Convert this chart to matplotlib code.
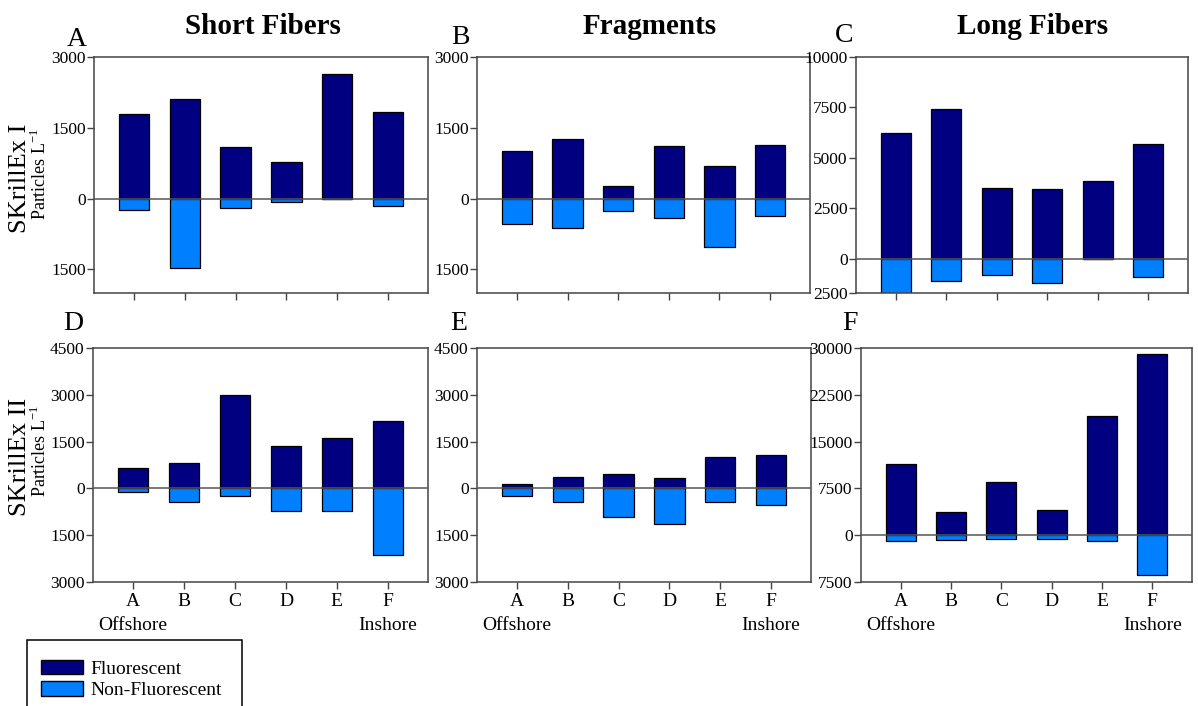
import numpy as np
import matplotlib
matplotlib.use('Agg')
import matplotlib.pyplot as plt
from matplotlib.patches import Patch, Rectangle
from matplotlib.ticker import FixedLocator, FuncFormatter

plt.rcParams['font.family'] = ['Liberation Serif', 'DejaVu Serif']
plt.rcParams['mathtext.fontset'] = 'custom'
plt.rcParams['mathtext.rm'] = 'Liberation Serif'

# Sampling stations, offshore -> inshore
stations = ['A', 'B', 'C', 'D', 'E', 'F']
columns = ['Short Fibers', 'Fragments', 'Long Fibers']
rows = ['SKrillEx I', 'SKrillEx II']
panel_letters = ['A', 'B', 'C', 'D', 'E', 'F']

# particles per litre (non-fluorescent plotted downward)
sk1_short_fl = [1800, 2100, 1100, 765, 2645, 1830]
sk1_short_nf = [235, 1465, 200, 80, 5, 150]
sk1_frag_fl = [1010, 1265, 275, 1105, 695, 1140]
sk1_frag_nf = [540, 625, 265, 420, 1025, 375]
sk1_long_fl = [6220, 7400, 3530, 3470, 3870, 5670]
sk1_long_nf = [2600, 1100, 820, 1180, 0, 930]

sk2_short_fl = [650, 820, 3000, 1360, 1605, 2150]
sk2_short_nf = [130, 450, 235, 725, 725, 2150]
sk2_frag_fl = [140, 370, 465, 320, 1015, 1065]
sk2_frag_nf = [255, 445, 910, 1130, 425, 520]
sk2_long_fl = [11450, 3780, 8560, 4100, 19100, 29100]
sk2_long_nf = [850, 690, 640, 590, 960, 6380]

fluor = [[sk1_short_fl, sk1_frag_fl, sk1_long_fl],
         [sk2_short_fl, sk2_frag_fl, sk2_long_fl]]
nonfl = [[sk1_short_nf, sk1_frag_nf, sk1_long_nf],
         [sk2_short_nf, sk2_frag_nf, sk2_long_nf]]

# y ticks / limits per panel
yticks = [[[3000, 1500, 0, -1500], [3000, 1500, 0, -1500], [10000, 7500, 5000, 2500, 0, -1700]],
          [[4500, 3000, 1500, 0, -1500, -3000], [4500, 3000, 1500, 0, -1500, -3000],
           [30000, 22500, 15000, 7500, 0, -7500]]]
ylims = [[(-2000, 3000), (-2000, 3000), (-1700, 10000)],
         [(-3000, 4500), (-3000, 4500), (-7500, 30000)]]

navy = '#000080'
light = '#0080ff'

W, H = 1198, 706
fig = plt.figure(figsize=(W / 100, H / 100), dpi=100)

# axes boxes in pixels: left, right, top, bottom
boxes = [[(94, 428, 57, 293), (477, 810, 57, 293), (856, 1188, 57, 293)],
         [(93, 428, 348, 582), (477, 811, 348, 582), (861, 1192, 348, 582)]]
letter_pos = [[(77, 39), (460, 37), (844, 35)],
              [(73, 323), (459, 323), (850, 323)]]

x = np.arange(len(stations))
for r in range(2):
    for c in range(3):
        l, rr, t, b = boxes[r][c]
        ax = fig.add_axes([l / W, 1 - b / H, (rr - l) / W, (b - t) / H])
        ax.bar(x, fluor[r][c], width=0.6, color=navy, edgecolor='black', linewidth=0.9, zorder=2)
        ax.bar(x, -np.array(nonfl[r][c]), width=0.6, color=light, edgecolor='black', linewidth=0.9, zorder=2)
        ax.axhline(0, color='#555555', lw=1.1, zorder=3)
        ax.set_xlim(-0.79, 5.79)
        ax.set_ylim(*ylims[r][c])
        ax.yaxis.set_major_locator(FixedLocator(yticks[r][c]))
        if c == 2 and r == 0:
            ax.yaxis.set_major_formatter(FuncFormatter(lambda v, p: '2500' if v < 0 else '%d' % abs(v)))
        else:
            ax.yaxis.set_major_formatter(FuncFormatter(lambda v, p: '%d' % abs(v)))
        ax.set_xticks(x)
        for s in ax.spines.values():
            s.set_color('#444444')
            s.set_linewidth(1.1)
        ax.tick_params(axis='y', direction='out', length=5, width=1, color='#444444',
                       labelsize=12.5, pad=1)
        ax.tick_params(axis='x', direction='out', length=5, width=1, color='#444444',
                       labelsize=14, pad=3)
        if r == 0:
            ax.set_xticklabels([])
        else:
            ax.set_xticklabels(stations)
            ax.text(0, -0.15, 'Offshore', transform=ax.get_xaxis_transform(),
                    ha='center', va='top', fontsize=14)
            ax.text(5, -0.15, 'Inshore', transform=ax.get_xaxis_transform(),
                    ha='center', va='top', fontsize=14)
        # panel letter
        lx, ly = letter_pos[r][c]
        fig.text(lx / W, 1 - ly / H, panel_letters[r * 3 + c],
                 ha='center', va='center', fontsize=20)

# column titles
title_x = [263, 650, 1033]
for c in range(3):
    fig.text(title_x[c] / W, 1 - 26 / H, columns[c], ha='center', va='center',
             fontsize=21, fontweight='bold')

# row labels
row_y = [178, 457]
part_y = [174, 451]
for r in range(2):
    fig.text(20 / W, 1 - row_y[r] / H, rows[r], rotation=90, ha='center', va='center', fontsize=19)
    fig.text(40 / W, 1 - part_y[r] / H, 'Particles L$^{\\mathregular{-1}}$', rotation=90,
             ha='center', va='center', fontsize=13)

# legend box (runs off the bottom edge)
fig.patches.append(Rectangle((27 / W, -0.05), (242 - 27) / W, 0.05 + 1 - 640 / H,
                             transform=fig.transFigure, facecolor='none',
                             edgecolor='black', lw=1.1, clip_on=False))
handles = [Patch(facecolor=navy, edgecolor='black', label='Fluorescent'),
           Patch(facecolor=light, edgecolor='black', label='Non-Fluorescent')]
fig.legend(handles=handles, loc='upper left', bbox_to_anchor=(27 / W, 1 - 646 / H),
           frameon=False, fontsize=14, handlelength=2.2, handleheight=0.75,
           handletextpad=0.35, labelspacing=0.2, borderpad=0.2)

fig.savefig('out.png', dpi=100)
